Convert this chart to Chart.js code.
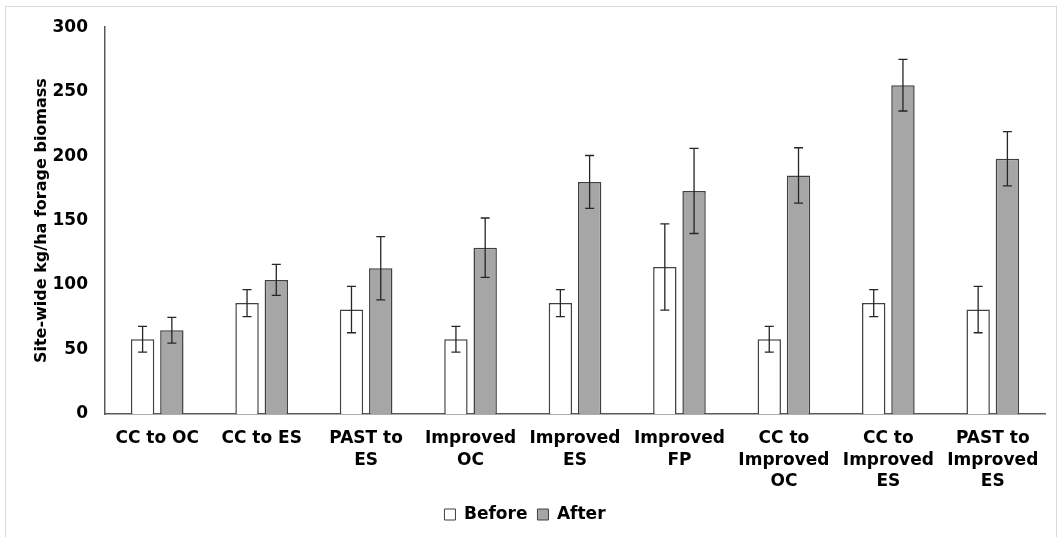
<!DOCTYPE html>
<html>
<head>
<meta charset="utf-8">
<script src="https://cdn.jsdelivr.net/npm/chart.js@4/dist/chart.umd.min.js"></script>
<style>
  html, body { margin: 0; padding: 0; background: #fff; }
  #wrap { width: 1059px; height: 537px; position: relative; }
</style>
</head>
<body>
<div id="wrap"><canvas id="grafico"></canvas></div>
<script>
// categorias e valores
const categorias = [
  "CC to OC",
  "CC to ES",
  ["PAST to", "ES"],
  ["Improved", "OC"],
  ["Improved", "ES"],
  ["Improved", "FP"],
  ["CC to", "Improved", "OC"],
  ["CC to", "Improved", "ES"],
  ["PAST to", "Improved", "ES"]
];
const antes = [58, 86, 81, 58, 86, 114, 58, 86, 81];
const antesErro = [10, 10.5, 18, 10, 10.5, 33.5, 10, 10.5, 18];
const depois = [65, 104, 113, 129, 180, 173, 185, 255, 198];
const depoisErro = [10, 12, 24.5, 23, 20.5, 33, 21.5, 20, 21];
const ticksY = [0, 50, 100, 150, 200, 250, 300];

const fonte = "'DejaVu Sans', Verdana, sans-serif";

// barras de erro desenhadas pela escala y
const barrasErro = {
  id: "barrasErro",
  afterDatasetsDraw(chart) {
    const ctx = chart.ctx;
    const y = chart.scales.y;
    chart.data.datasets.forEach((ds, i) => {
      const meta = chart.getDatasetMeta(i);
      meta.data.forEach((bar, j) => {
        const v = ds.data[j];
        const e = ds.erros[j];
        const yTop = y.getPixelForValue(v + e);
        const yBot = y.getPixelForValue(v - e);
        ctx.save();
        ctx.strokeStyle = "#262626";
        ctx.lineWidth = 1.3;
        ctx.beginPath();
        ctx.moveTo(bar.x, yTop); ctx.lineTo(bar.x, yBot);
        ctx.moveTo(bar.x - 4.5, yTop); ctx.lineTo(bar.x + 4.5, yTop);
        ctx.moveTo(bar.x - 4.5, yBot); ctx.lineTo(bar.x + 4.5, yBot);
        ctx.stroke();
        ctx.restore();
      });
    });
  }
};

// moldura cinza clara em volta do gráfico
const moldura = {
  id: "moldura",
  beforeDraw(chart) {
    const ctx = chart.ctx;
    ctx.save();
    ctx.strokeStyle = "#d9d9d9";
    ctx.lineWidth = 1;
    ctx.strokeRect(5.5, 6.5, 1051, 545);
    ctx.restore();
  }
};

new Chart(document.getElementById("grafico").getContext("2d"), {
  type: "bar",
  data: {
    labels: categorias,
    datasets: [
      {
        label: "Before",
        data: antes,
        erros: antesErro,
        backgroundColor: "#ffffff",
        borderColor: "#404040",
        borderWidth: 1.5,
        categoryPercentage: 0.56,
        barPercentage: 0.8
      },
      {
        label: "After",
        data: depois,
        erros: depoisErro,
        backgroundColor: "#a6a6a6",
        borderColor: "#404040",
        borderWidth: 1.5,
        categoryPercentage: 0.56,
        barPercentage: 0.8
      }
    ]
  },
  options: {
    responsive: true,
    maintainAspectRatio: false,
    animation: false,
    layout: { padding: { top: 24, left: 5, right: 14, bottom: 4 } },
    plugins: {
      tooltip: { enabled: false },
      legend: {
        position: "bottom",
        labels: {
          boxWidth: 11,
          boxHeight: 11,
          padding: 10,
          color: "#000",
          font: { family: fonte, size: 17, weight: "bold" },
          generateLabels(chart) {
            return Chart.defaults.plugins.legend.labels.generateLabels(chart)
              .map(l => Object.assign(l, { lineWidth: 1, strokeStyle: "#404040" }));
          }
        }
      }
    },
    scales: {
      x: {
        grid: { display: false, drawTicks: false },
        border: { display: true, color: "#595959", width: 1.5 },
        ticks: {
          color: "#000",
          padding: 14,
          maxRotation: 0,
          autoSkip: false,
          font: { family: fonte, size: 17, weight: "bold", lineHeight: 1.27 }
        },
        afterFit(scale) { scale.height = 82; }
      },
      y: {
        min: 0,
        max: 300,
        afterBuildTicks(scale) { scale.ticks = ticksY.map(v => ({ value: v })); },
        grid: { display: false, drawTicks: false },
        border: { display: true, color: "#595959", width: 1.5 },
        ticks: {
          color: "#000",
          padding: 17,
          font: { family: fonte, size: 17, weight: "bold" }
        },
        title: {
          display: true,
          text: "Site-wide kg/ha forage biomass",
          color: "#000",
          padding: { top: 27, bottom: 0 },
          font: { family: fonte, size: 16, weight: "bold" }
        },
        afterFit(scale) { scale.width = 100; }
      }
    }
  },
  plugins: [barrasErro, moldura]
});
</script>
</body>
</html>
